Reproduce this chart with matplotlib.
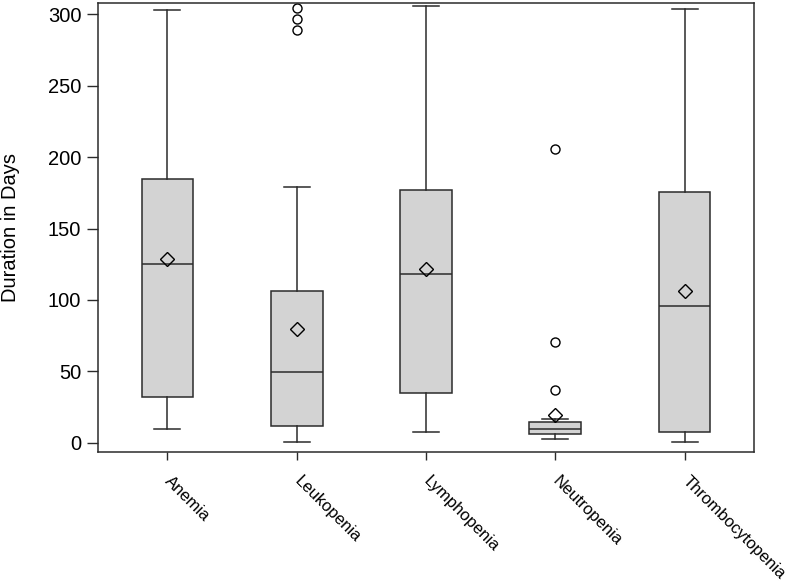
import matplotlib
matplotlib.use("Agg")
import matplotlib.pyplot as plt
import matplotlib.transforms as mtransforms

categories = ["Anemia", "Leukopenia", "Lymphopenia", "Neutropenia", "Thrombocytopenia"]
whislo = [9.6, 0.5, 7.5, 2.6, 0.5]
q1 = [32.4, 11.9, 34.7, 6.3, 7.5]
med = [125.2, 49.9, 118.0, 9.6, 96.0]
q3 = [184.4, 106.3, 177.1, 14.5, 175.3]
whishi = [303.0, 179.2, 305.8, 16.8, 303.5]
means = [128.7, 79.5, 121.9, 19.4, 106.0]
fliers = [[], [304.2, 296.5, 288.6], [], [205.4, 70.4, 36.9], []]

plt.rcParams['font.family'] = ['Liberation Sans', 'DejaVu Sans']

fig = plt.figure(figsize=(7.87, 5.88), dpi=100)
ax = fig.add_axes([98/787, 1-452/588, (754-98)/787, (452-3)/588])

stats = []
for i, c in enumerate(categories):
    stats.append(dict(label=c, whislo=whislo[i], q1=q1[i], med=med[i], q3=q3[i],
                      whishi=whishi[i], mean=means[i], fliers=fliers[i]))

edge = "#2b2b2b"
ax.bxp(stats, positions=range(len(categories)), widths=0.40, capwidths=0.2,
       showmeans=True, patch_artist=True,
       boxprops=dict(facecolor="#d3d3d3", edgecolor=edge, linewidth=1.1),
       medianprops=dict(color=edge, linewidth=1.1),
       whiskerprops=dict(color=edge, linewidth=1.1),
       capprops=dict(color=edge, linewidth=1.1),
       meanprops=dict(marker="D", markerfacecolor="none", markeredgecolor="black",
                      markersize=7, markeredgewidth=1.0),
       flierprops=dict(marker="o", markerfacecolor="none", markeredgecolor="black",
                       markersize=6.5, markeredgewidth=1.0))

ax.set_xlim(-0.537, 4.537)
ax.set_ylim(-6.3, 307.7)
ax.set_yticks([0, 50, 100, 150, 200, 250, 300])
ax.set_xticks(range(len(categories)))
ax.set_xticklabels(categories, rotation=-45, ha="left", va="center",
                   rotation_mode="anchor", fontsize=12)
offset = mtransforms.ScaledTranslation(-0.06, 0, fig.dpi_scale_trans)
for lab in ax.get_xticklabels():
    lab.set_transform(lab.get_transform() + offset)
ax.tick_params(axis="y", labelsize=14.5, length=8, width=1, color=edge, direction="out", pad=4)
ax.tick_params(axis="x", length=6, width=1, color=edge, direction="out", pad=13)
ax.set_ylabel("Duration in Days", fontsize=14.5, labelpad=20)
for s in ax.spines.values():
    s.set_color(edge)
    s.set_linewidth(1.1)

fig.savefig("out.png", dpi=100)
